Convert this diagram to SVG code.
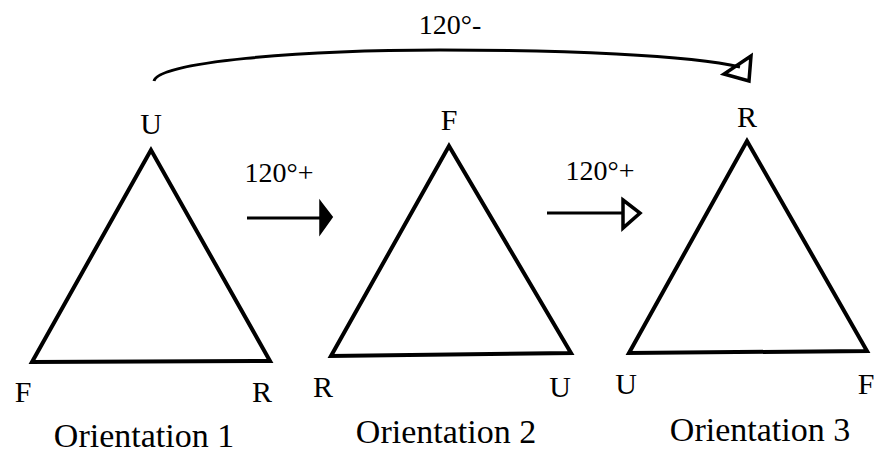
<svg xmlns="http://www.w3.org/2000/svg" width="874" height="453" viewBox="0 0 874 453">
<style>
.tri{fill:none;stroke:#000;stroke-width:4;stroke-linejoin:miter}
text{font-family:'Liberation Serif','DejaVu Serif',serif;fill:#000;text-anchor:middle}
.lbl{font-size:30px}
.cap{font-size:34px}
.ang{font-size:28px}
.ln{fill:none;stroke:#000;stroke-width:3}
.hd{fill:none;stroke:#000;stroke-width:3.5;stroke-linejoin:miter}
.hdf{fill:#000;stroke:#000;stroke-width:3.5;stroke-linejoin:miter}
</style>
<rect width="874" height="453" fill="#fff"/>
<g id="orientation1">
<polygon class="tri" points="151,150 32,362 270,361"/>
<text class="lbl" x="151" y="134">U</text>
<text class="lbl" x="23" y="402">F</text>
<text class="lbl" x="262" y="402">R</text>
<text class="cap" x="144" y="447">Orientation 1</text>
</g>
<g id="orientation2">
<polygon class="tri" points="449,146 331,356 571,353"/>
<text class="lbl" x="449" y="130">F</text>
<text class="lbl" x="323" y="397">R</text>
<text class="lbl" x="560" y="397">U</text>
<text class="cap" x="446" y="443">Orientation 2</text>
</g>
<g id="orientation3">
<polygon class="tri" points="747,141 629,353 867,351"/>
<text class="lbl" x="747" y="127">R</text>
<text class="lbl" x="626" y="394">U</text>
<text class="lbl" x="866" y="394">F</text>
<text class="cap" x="760" y="441">Orientation 3</text>
</g>
<g id="connectors">
<path class="ln" d="M154,81 C158,62 300,50 440,50 C560,50 690,55 740,67"/>
<polygon class="hd" points="751,56 724,74 749,81"/>
<text class="ang" x="450" y="34">120°-</text>
<line class="ln" x1="247" y1="218" x2="322" y2="218"/>
<polygon class="hdf" points="321,204 331,217 321,231"/>
<text class="ang" x="279" y="182">120°+</text>
<line class="ln" x1="547" y1="213" x2="624" y2="213"/>
<polygon class="hd" points="623,200 640,213 623,228"/>
<text class="ang" x="600" y="180">120°+</text>
</g>
</svg>
